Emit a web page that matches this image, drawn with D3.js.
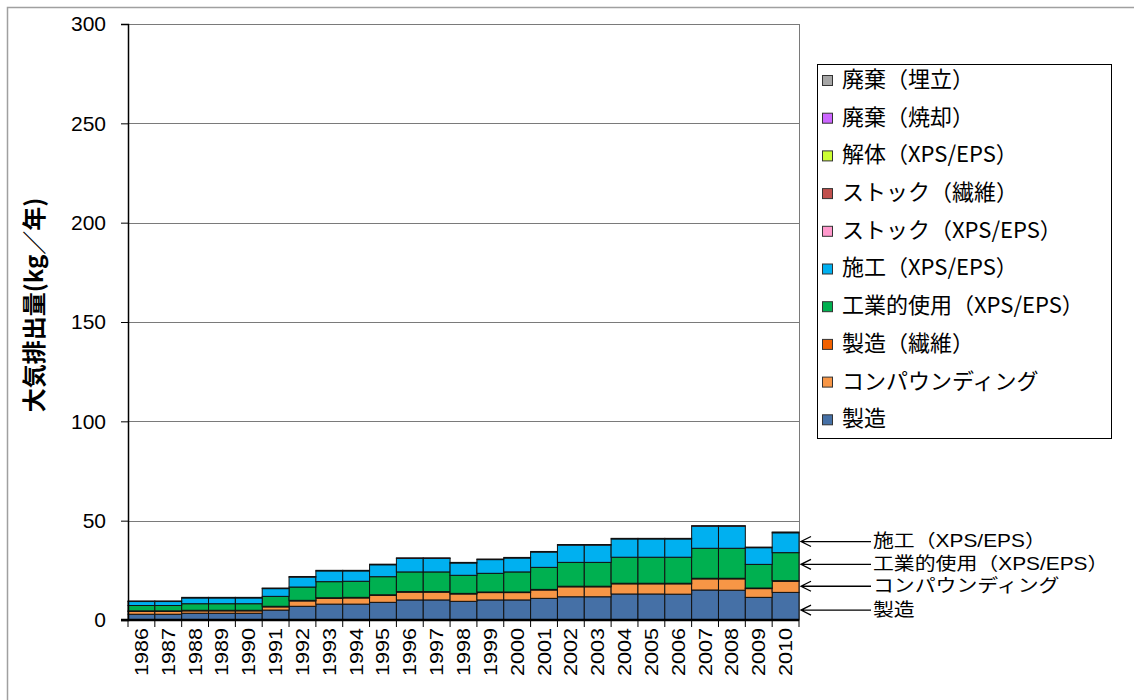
<!DOCTYPE html>
<html>
<head>
<meta charset="utf-8">
<script src="https://cdn.jsdelivr.net/npm/d3@7"></script>
<style>
  body { margin: 0; background: #fff; }
  svg { display: block; }
</style>
</head>
<body>
<svg id="chart" width="1134" height="700"></svg>
<script>
// years on the x axis
const years = ['1986', '1987', '1988', '1989', '1990', '1991', '1992', '1993', '1994', '1995',
               '1996', '1997', '1998', '1999', '2000', '2001', '2002', '2003', '2004', '2005',
               '2006', '2007', '2008', '2009', '2010']

// series, bottom of the stack first
const series_names = ['製造', 'コンパウンディング', '製造（繊維）', '工業的使用（XPS/EPS）', '施工（XPS/EPS）',
                      'ストック（XPS/EPS）', 'ストック（繊維）', '解体（XPS/EPS）', '廃棄（焼却）', '廃棄（埋立）']
const series_colors = ['#4570a6', '#f79646', '#f26100', '#00b050', '#00b0f0',
                       '#ff99cc', '#c0504d', '#ccff33', '#cc66ff', '#a6a6a6']

// kg / year
const seizo = [2.9, 2.9, 3.4, 3.4, 3.4, 5.0, 6.9, 8.0, 8.0, 8.9, 10.1, 10.1, 9.4, 10.1, 10.1, 10.9,
               11.7, 11.7, 13.1, 13.1, 13.0, 15.1, 15.0, 11.4, 13.9]
const compounding = [1.4, 1.4, 1.2, 1.2, 1.2, 1.6, 2.7, 2.9, 3.1, 3.5, 3.9, 3.9, 3.7, 3.7, 3.7, 4.2,
                     5.0, 5.0, 5.1, 5.1, 5.2, 5.6, 5.7, 4.4, 5.6]
const seizo_fiber = [0.3, 0.3, 0.3, 0.3, 0.3, 0.3, 0.3, 0.3, 0.3, 0.3, 0.3, 0.3, 0.3, 0.3, 0.3, 0.3,
                     0.3, 0.3, 0.3, 0.3, 0.3, 0.3, 0.3, 0.3, 0.3]
const industrial = [2.7, 2.7, 3.3, 3.3, 3.3, 5.0, 6.7, 8.1, 8.1, 9.1, 9.9, 9.9, 9.1, 9.4, 10.1, 11.1,
                    12.0, 12.0, 13.1, 13.1, 13.1, 15.1, 15.1, 11.9, 14.1]
const construction = [2.0, 2.0, 2.9, 2.9, 2.9, 3.9, 5.0, 5.4, 5.2, 6.0, 6.8, 6.8, 6.2, 6.9, 7.0, 7.7,
                      8.7, 8.7, 9.2, 9.2, 9.2, 11.1, 11.1, 8.4, 10.0]
const stock_xps = [0.3, 0.3, 0.3, 0.3, 0.3, 0.3, 0.3, 0.3, 0.3, 0.3, 0.3, 0.3, 0.3, 0.3, 0.3, 0.3,
                   0.3, 0.3, 0.3, 0.3, 0.3, 0.3, 0.3, 0.3, 0.4]
const stock_fiber = years.map(() => 0)
const demolition = years.map(() => 0)
const disposal_burn = years.map(() => 0)
const disposal_landfill = years.map(() => 0)

const series_values = [seizo, compounding, seizo_fiber, industrial, construction,
                       stock_xps, stock_fiber, demolition, disposal_burn, disposal_landfill]

// y axis ticks
const y_ticks = [0, 50, 100, 150, 200, 250, 300]
const y_title = '大気排出量(kg／年)'

// the arrows on the right side, with the value (kg/年) each one points at
const callout_labels = ['施工（XPS/EPS）', '工業的使用（XPS/EPS）', 'コンパウンディング', '製造']
const callout_values = [39.5, 28, 17, 5]

const font = "'Liberation Sans', 'Noto Sans CJK JP', sans-serif"
const jp_font = "'Noto Sans CJK JP', 'Liberation Sans', sans-serif"

const svg = d3.select('#chart')
const plot_left = 128, plot_right = 799, plot_top = 24, plot_bottom = 620

// table for d3.stack
const table = years.map((yr, i) => {
    row = {year: yr}
    series_names.forEach((s, j) => row[s] = series_values[j][i])
    return row
})
const stacked = d3.stack().keys(series_names)(table)

const x = d3.scaleBand(years, [plot_left, plot_right]).padding(0)
const y = d3.scaleLinear([0, 300], [plot_bottom, plot_top])
const color = d3.scaleOrdinal(series_names, series_colors)

// outer frame of the picture
svg.append('path')
   .attr('d', `M7.5,700 V7.5 H1134`)
   .attr('fill', 'none')
   .attr('stroke', '#a0a0a0')
   .attr('stroke-width', 1.5)

// gridlines
svg.append('g')
   .selectAll('line')
   .data(y_ticks.filter(t => t > 0))
   .join('line')
     .attr('x1', plot_left).attr('x2', plot_right)
     .attr('y1', d => Math.round(y(d)) + .5).attr('y2', d => Math.round(y(d)) + .5)
     .attr('stroke', '#7a7a7a')
     .attr('stroke-width', 1)

// right edge of the plot area
svg.append('line')
   .attr('x1', plot_right + .5).attr('x2', plot_right + .5)
   .attr('y1', plot_top).attr('y2', plot_bottom)
   .attr('stroke', '#7a7a7a')

// stacked bars
svg.append('g')
   .selectAll('g')
   .data(stacked)
   .join('g')
     .attr('fill', d => color(d.key))
   .selectAll('rect')
   .data(d => d)
   .join('rect')
     .attr('x', d => x(d.data.year))
     .attr('width', x.bandwidth())
     .attr('y', d => y(d[1]))
     .attr('height', d => y(d[0]) - y(d[1]))
     .attr('stroke', '#111')
     .attr('stroke-width', 1)

// y axis
const y_axis = svg.append('g')
   .attr('transform', `translate(${plot_left},0)`)
   .call(d3.axisLeft(y).tickValues(y_ticks).tickSize(7).tickPadding(15))
y_axis.select('.domain').attr('stroke', '#000').attr('stroke-width', 1.5)
y_axis.selectAll('line').attr('stroke', '#000')
y_axis.selectAll('text')
      .attr('font-family', font)
      .attr('font-size', 21)
      .attr('fill', '#000')

// x axis, ticks sit between the bars
const x_axis = svg.append('g')
   .attr('transform', `translate(0,${plot_bottom})`)
x_axis.append('line')
      .attr('x1', plot_left - 7).attr('x2', plot_right)
      .attr('stroke', '#000').attr('stroke-width', 2.5)
x_axis.selectAll('line.tick')
      .data(years.concat(['end']))
      .join('line')
        .attr('class', 'tick')
        .attr('x1', (d, i) => plot_left + i * x.bandwidth())
        .attr('x2', (d, i) => plot_left + i * x.bandwidth())
        .attr('y1', 0).attr('y2', 7)
        .attr('stroke', '#000')
x_axis.selectAll('text')
      .data(years)
      .join('text')
        .attr('transform', d => `translate(${x(d) + x.bandwidth() / 2 + 6.5},8) rotate(-90) scale(1.2,1)`)
        .attr('text-anchor', 'end')
        .attr('font-family', font)
        .attr('font-size', 18)
        .text(d => d)

// y title
svg.append('text')
   .attr('transform', `translate(43,305) rotate(-90)`)
   .attr('text-anchor', 'middle')
   .attr('font-family', jp_font)
   .attr('font-weight', 'bold')
   .attr('font-size', 24)
   .text(y_title)

// legend, top series first
const legend = svg.append('g')
legend.append('rect')
      .attr('x', 817.5).attr('y', 64.5)
      .attr('width', 294).attr('height', 374)
      .attr('fill', '#fff')
      .attr('stroke', '#000')
const legend_items = legend.selectAll('g.item')
      .data(series_names.slice().reverse())
      .join('g')
        .attr('class', 'item')
        .attr('transform', (d, i) => `translate(822,${80 + i * 37.7})`)
legend_items.append('rect')
      .attr('x', .5).attr('y', -4.5)
      .attr('width', 10).attr('height', 10)
      .attr('fill', d => color(d))
      .attr('stroke', '#333')
legend_items.append('text')
      .attr('x', 20).attr('y', 1)
      .attr('dominant-baseline', 'middle')
      .attr('font-family', jp_font)
      .attr('font-size', 22)
      .text(d => d)

// arrows and labels to the right of the last bar
const callout_g = svg.append('g')
      .selectAll('g')
      .data(callout_labels)
      .join('g')
        .attr('transform', (d, i) => `translate(${plot_right + 2},${y(callout_values[i])})`)
callout_g.append('path')
      .attr('d', 'M0,0 H70 M10,-5 L0,0 L10,5')
      .attr('fill', 'none')
      .attr('stroke', '#000')
      .attr('stroke-width', 1.3)
callout_g.append('text')
      .attr('transform', 'translate(72,1) scale(1.16,1)')
      .attr('dominant-baseline', 'middle')
      .attr('font-family', font)
      .attr('font-size', 18)
      .text(d => d)
</script>
</body>
</html>
